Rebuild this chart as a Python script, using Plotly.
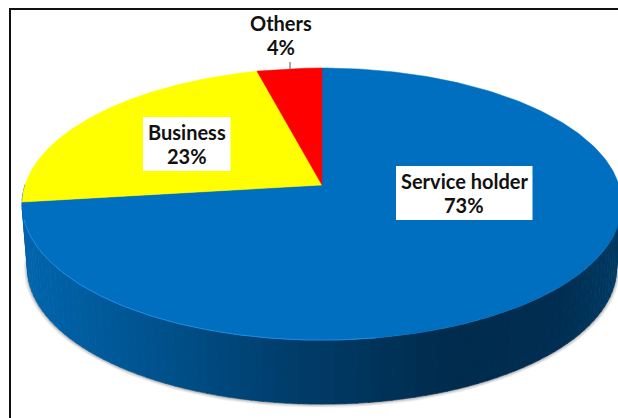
import math
import plotly.graph_objects as go

labels = ["Service holder", "Business", "Others"]
shares = [73, 23, 4]
colors = ["#006fc0", "#ffff00", "#ff0000"]

# wall shading from left to right of the pie
wall_stops = [(22, (0, 102, 174)), (170, (0, 80, 138)), (300, (0, 60, 104)),
              (450, (0, 44, 78)), (560, (0, 46, 82)), (620, (0, 58, 100))]

# pie geometry, one axis unit is one pixel
CX, CY = 322, 185
A, B, K = 297, 133.4, 0.14
DEPTH = 64


def project(angle, drop=0.0):
    # angle is clockwise from 12 o'clock, perspective squeezes the far side
    u, v = math.sin(angle), math.cos(angle)
    w = 1 + K * v
    shrink = 1 - 0.018 * drop
    return CX + A * shrink * u / w, CY - B * v / w + DEPTH * drop


def arc(start, end, drop=0.0, steps=120):
    pts = [project(start + (end - start) * i / steps, drop) for i in range(steps + 1)]
    return [p[0] for p in pts], [p[1] for p in pts]


def wall_color(x):
    for (x0, c0), (x1, c1) in zip(wall_stops, wall_stops[1:]):
        if x <= x1:
            t = max(0, (x - x0) / (x1 - x0))
            return "rgb(%d,%d,%d)" % tuple(c0[i] + (c1[i] - c0[i]) * t for i in range(3))
    return "rgb(%d,%d,%d)" % wall_stops[-1][1]


fig = go.Figure()

# soft shadow under the wall
for width, alpha in [(8, 0.06), (6, 0.09), (4, 0.13), (2, 0.18)]:
    sx, sy = arc(math.pi * 0.42, math.pi * 1.58, 1.0)
    fig.add_trace(go.Scatter(x=sx, y=sy, mode="lines", hoverinfo="skip",
                             line=dict(color="rgba(60,60,60,%g)" % alpha, width=width)))

# front wall, narrow strips
n_strips = 90
for i in range(n_strips):
    a0 = math.pi * (0.5 + i / n_strips)
    a1 = math.pi * (0.5 + (i + 1) / n_strips) + 0.002
    tx, ty = arc(a0, a1, 0.0, 4)
    bx, by = arc(a0, a1, 1.0, 4)
    xs = tx + bx[::-1] + tx[:1]
    ys = ty + by[::-1] + ty[:1]
    col = wall_color(sum(tx) / len(tx))
    fig.add_trace(go.Scatter(x=xs, y=ys, mode="lines", fill="toself", fillcolor=col,
                             line=dict(color=col, width=0.6), hoverinfo="skip"))

# top face, slices from the share values
total = sum(shares)
start = 0.0
for label, share, color in zip(labels, shares, colors):
    end = start + 2 * math.pi * share / total
    ax, ay = arc(start, end, 0.0, 240)
    fig.add_trace(go.Scatter(x=[CX] + ax + [CX], y=[CY] + ay + [CY], mode="lines",
                             fill="toself", fillcolor=color, name=label,
                             line=dict(color=color, width=0.5), hoverinfo="name"))
    start = end

# highlight along the front rim, left part only
rx, ry = arc(math.pi * 0.95, math.pi * 1.42, 0.0)
fig.add_trace(go.Scatter(x=rx, y=ry, mode="lines", hoverinfo="skip",
                         line=dict(color="#1f8ae0", width=1)))

# leader line of the small slice
fig.add_shape(type="line", x0=290, x1=290, y0=62, y1=69, line=dict(color="#555555", width=1))

# frame
fig.add_shape(type="line", x0=9, x1=618, y0=9, y1=9, line=dict(color="#111111", width=2))
fig.add_shape(type="line", x0=10, x1=10, y0=9, y1=418, line=dict(color="#111111", width=2))

# white boxes behind the two inside labels
fig.add_shape(type="rect", x0=396, x1=532.5, y0=166, y1=220, fillcolor="white", line_width=0)
fig.add_shape(type="rect", x0=143, x1=230.5, y0=117, y1=171, fillcolor="white", line_width=0)

# label centre x, name line y, percent line y
label_pos = [(464, 181, 205), (187, 132, 156), (281, 23, 47)]
for label, share, (x, y_name, y_pct) in zip(labels, shares, label_pos):
    for y, text in [(y_name, label), (y_pct, "%d%%" % share)]:
        fig.add_annotation(x=x, y=y, text="<b>%s</b>" % text, showarrow=False,
                           font=dict(family="Lato", size=20, color="#111111"))

fig.update_xaxes(range=[0, 618], visible=False)
fig.update_yaxes(range=[418, 0], visible=False)
fig.update_layout(width=618, height=418, margin=dict(l=0, r=0, t=0, b=0),
                  paper_bgcolor="white", plot_bgcolor="white", showlegend=False)

fig.write_html("out.html", config={"displayModeBar": False},
               post_script="document.body.style.margin='0';")
